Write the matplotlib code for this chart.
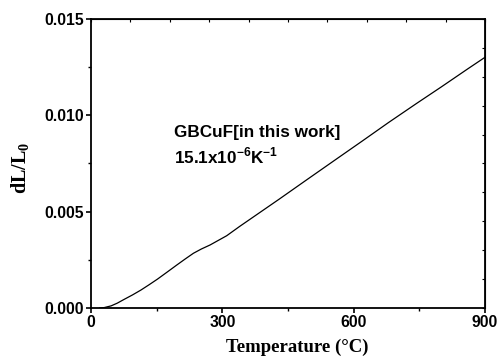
import matplotlib
matplotlib.use("Agg")
import matplotlib.pyplot as plt
from matplotlib.ticker import MultipleLocator

plt.rcParams['mathtext.fontset'] = 'custom'
plt.rcParams['mathtext.rm'] = 'Liberation Sans:bold'
plt.rcParams['mathtext.bf'] = 'Liberation Serif:bold'

temperature = [20, 30, 46, 60, 76, 95, 114, 133, 152, 175, 196, 215, 234, 252, 272, 310, 340, 363, 430,
               492, 560, 620, 680, 744, 800, 860, 900]
dL_L0 = [0.0, 0.00002, 0.00011, 0.00025, 0.00045, 0.00068, 0.00093, 0.00121, 0.00150, 0.00188, 0.00223,
         0.00254, 0.00284, 0.00306, 0.00327, 0.00375, 0.00424, 0.00460, 0.00565, 0.00664,
         0.00772, 0.00867, 0.00963, 0.01062, 0.01147, 0.01240, 0.01301]

x_ticks = [0, 300, 600, 900]
y_ticks = [0.000, 0.005, 0.010, 0.015]
y_tick_labels = ['0.000', '0.005', '0.010', '0.015']

fig = plt.figure(figsize=(5.01, 3.58), dpi=100)
ax = fig.add_axes([0.1816, 0.1397, 0.968 - 0.1816, 0.947 - 0.1397])
ax.plot(temperature, dL_L0, color='black', lw=0.9)
ax.set_xlim(0, 900)
ax.set_ylim(0, 0.015)
ax.set_xticks(x_ticks)
ax.set_xticklabels([str(t) for t in x_ticks])
ax.set_yticks(y_ticks)
ax.set_yticklabels(y_tick_labels)
ax.xaxis.set_minor_locator(MultipleLocator(150))
ax.yaxis.set_minor_locator(MultipleLocator(0.0025))
for lab in ax.get_xticklabels() + ax.get_yticklabels():
    lab.set_fontfamily('Liberation Sans')
    lab.set_fontweight('bold')
    lab.set_fontsize(11.3)
ax.tick_params(which='major', direction='out', length=3.6, width=1.2, pad=1.5)
ax.tick_params(which='minor', direction='out', length=2.2, width=1.0)
for s in ax.spines.values():
    s.set_linewidth(1.3)

# top / right ticks (inward, 10 divisions)
axt = ax.secondary_xaxis('top')
axt.set_xticks([i * 90 for i in range(11)])
axt.tick_params(direction='in', length=2.5, width=0.8, labeltop=False)
axr = ax.secondary_yaxis('right')
axr.set_yticks([i * 0.0015 for i in range(11)])
axr.tick_params(direction='in', length=2.5, width=0.8, labelright=False)

ax.set_xlabel('Temperature (°C)', fontfamily='Liberation Serif', fontweight='bold', fontsize=13.5)
ax.xaxis.set_label_coords(0.523, -0.105)
ax.set_ylabel(r'dL/L$_\mathbf{0}$', fontfamily='Liberation Serif', fontweight='bold', fontsize=14.5)
ax.yaxis.set_label_coords(-0.15, 0.484)

ax.text(0.2107, 0.593, 'GBCuF[in this work]', transform=ax.transAxes, fontfamily='Liberation Sans',
        fontweight='bold', fontsize=12.3)
ax.text(0.2107, 0.5007, r'15.1x10$^{\mathrm{-6}}$K$^{\mathrm{-1}}$', transform=ax.transAxes,
        fontfamily='Liberation Sans', fontweight='bold', fontsize=12.3)

fig.savefig('out.png', dpi=100)
